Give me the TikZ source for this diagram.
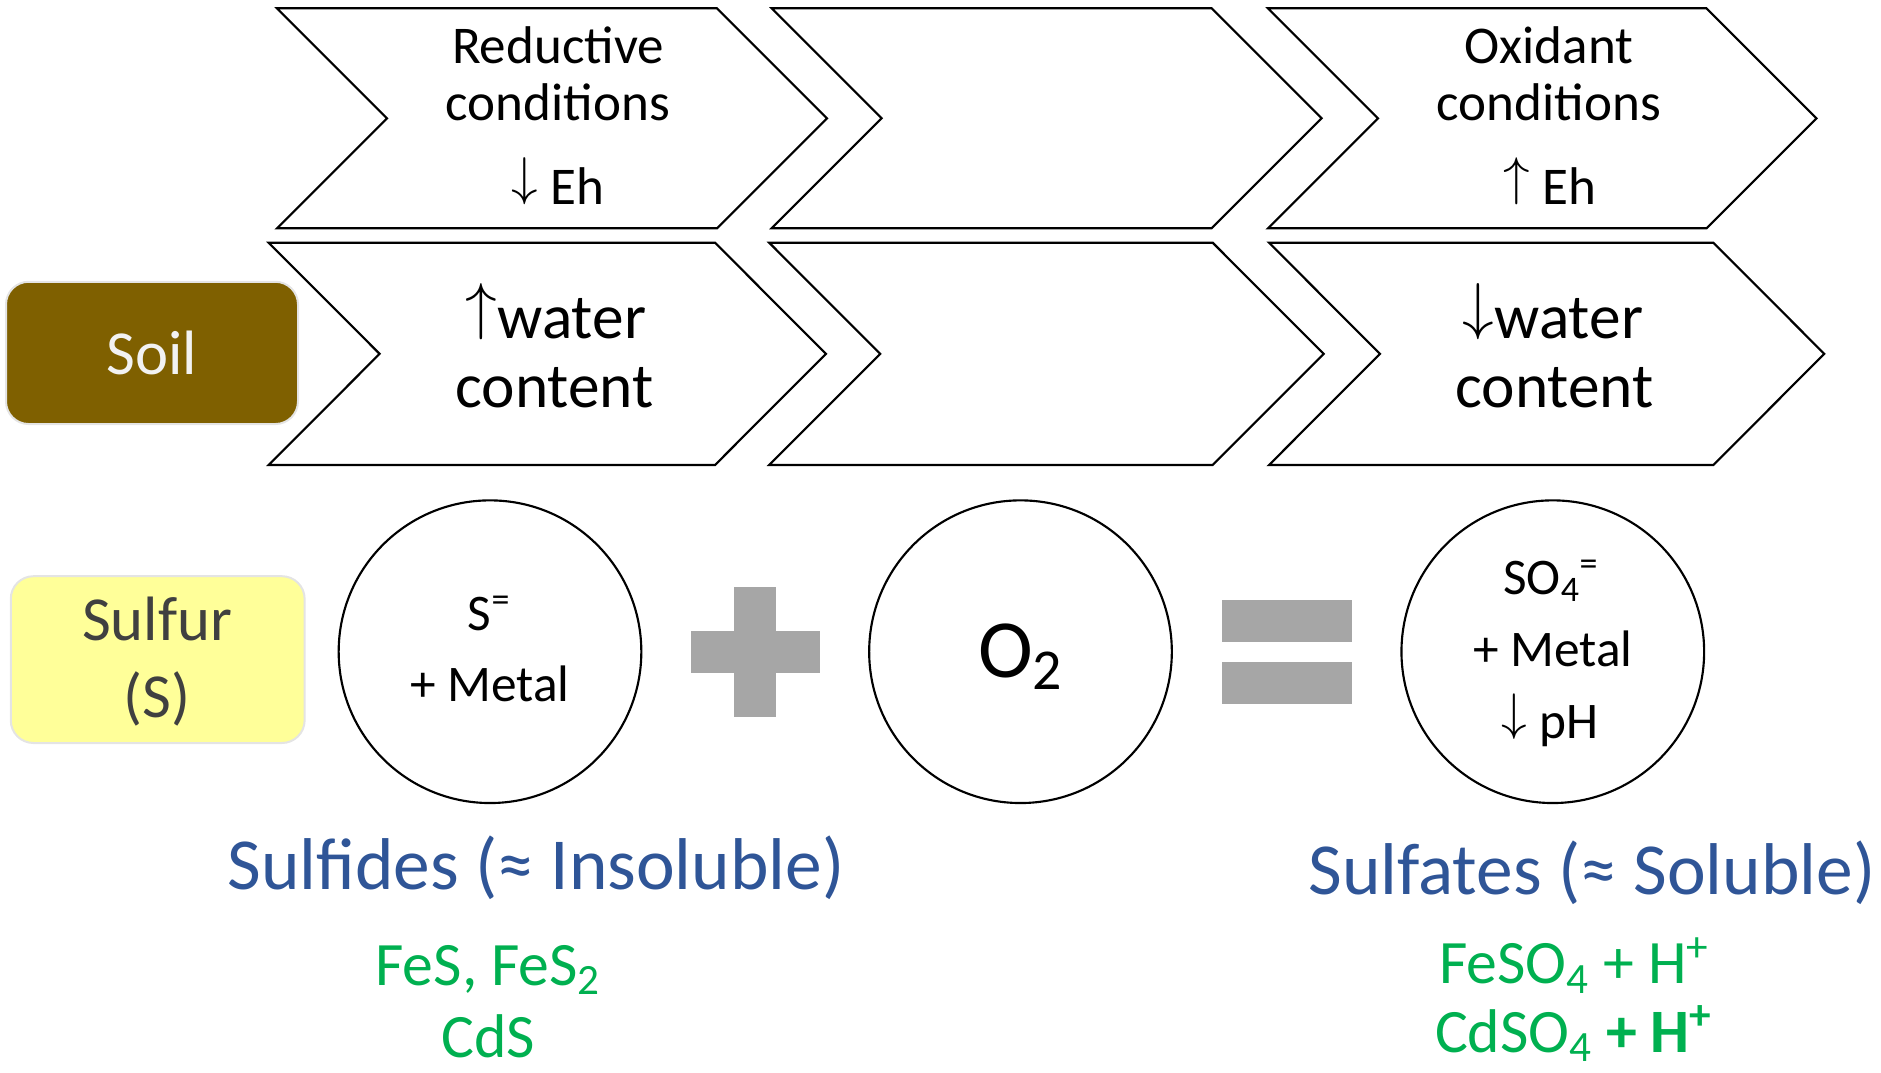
\RequirePackage{fix-cm}
\documentclass[tikz,border=0pt]{standalone}
\usepackage{fontspec}
\setmainfont{Carlito}
\definecolor{soilfill}{HTML}{7F6000}
\definecolor{soiltext}{HTML}{F2F2F2}
\definecolor{sulffill}{HTML}{FFFF99}
\definecolor{sulftext}{HTML}{404040}
\definecolor{boxedge}{HTML}{E4E4E4}
\definecolor{opgray}{HTML}{A6A6A6}
\definecolor{labblue}{HTML}{2F5597}
\definecolor{labgreen}{HTML}{00B050}
\newcommand{\myup}{\raisebox{0.17em}{$\uparrow$}}
\newcommand{\mydown}{\raisebox{0.17em}{$\downarrow$}}
% xleft, ytop, ybot, width, offset
\newcommand{\chevronpath}[5]{%
  \draw[chev] (#1,#2) -- ({#1+#4-#5},#2) -- ({#1+#4},{(#2+#3)/2})
    -- ({#1+#4-#5},#3) -- (#1,#3) -- ({#1+#5},{(#2+#3)/2}) -- cycle;}
\begin{document}
\begin{tikzpicture}[x=0.75pt,y=-0.75pt,
  chev/.style={draw=black,fill=white,line width=1.6pt,line join=miter},
  ball/.style={circle,draw=black,fill=white,line width=1.6pt,minimum size=227pt,inner sep=0pt},
  lbl/.style={anchor=base,inner sep=0pt},
  ftop/.style={font=\fontsize{39.8}{48}\selectfont},
  fmid/.style={font=\fontsize{47.5}{57}\selectfont},
  fbox/.style={font=\fontsize{47}{56}\selectfont},
  fcirc/.style={font=\fontsize{38.5}{47}\selectfont},
  fbig/.style={font=\fontsize{62}{74}\selectfont},
  fblue/.style={font=\fontsize{55}{66}\selectfont,text=labblue},
  fgreen/.style={font=\fontsize{46.3}{55}\selectfont,text=labgreen},
  tagbox/.style={draw=boxedge,line width=1.5pt,rounded corners=17pt,inner sep=0pt}
]
\useasboundingbox (0,0) rectangle (1881,1072);

% chevrons, row 1
\chevronpath{277}{8.3}{228.3}{550}{110}
\chevronpath{771.6}{8.3}{228.3}{550}{110}
\chevronpath{1268}{8.3}{228.3}{548.5}{110}
% chevrons, row 2
\chevronpath{268.6}{242.7}{465}{557.4}{111}
\chevronpath{769.2}{242.7}{465}{554.5}{111}
\chevronpath{1269}{242.7}{465}{555.3}{111}

% row 1 texts
\node[lbl,ftop] (r1a) at (558,63) {Reductive};
\node[lbl,ftop] (r1b) at (558,120.7) {conditions};
\node[lbl,ftop] (r1c) at (558,204) {\mydown\ Eh};
\node[lbl,ftop] (o1a) at (1549,63) {Oxidant};
\node[lbl,ftop] (o1b) at (1549,120.7) {conditions};
\node[lbl,ftop] (o1c) at (1550,204) {\myup\ Eh};

% row 2 texts
\node[lbl,fmid] (w1a) at (556,338.3) {\myup water};
\node[lbl,fmid] (w1b) at (554.6,407.3) {content};
\node[lbl,fmid] (w3a) at (1553,338.3) {\mydown water};
\node[lbl,fmid] (w3b) at (1554.6,407.3) {content};

% Soil
\node[tagbox,fill=soilfill,minimum width=219pt,minimum height=106.7pt,
      text=soiltext,fbox] (soil) at (152,352.9) {Soil};

% Sulfur
\node[tagbox,fill=sulffill,minimum width=220.4pt,minimum height=125.1pt] (sulf) at (157.7,659.6) {};
\node[lbl,fbox,text=sulftext] (sulfa) at (157,640.4) {Sulfur};
\node[lbl,fbox,text=sulftext] (sulfb) at (157,717.7) {(S)};

% circles
\node[ball] (c1) at (490,651.7) {};
\node[ball] (c2) at (1020.5,651.7) {};
\node[ball] (c3) at (1552.8,651.7) {};

\node[lbl,fcirc] (c1a) at (489,630.2) {S\textsuperscript{=}};
\node[lbl,fcirc] (c1b) at (490,701.9) {+ Metal};
\node[lbl,fbig] (c2a) at (1020.4,677) {O\textsubscript{2}};
\node[lbl,fcirc] (c3a) at (1550.7,594) {SO\textsubscript{4}\textsuperscript{=}};
\node[lbl,fcirc] (c3b) at (1553,666.8) {+ Metal};
\node[lbl,fcirc] (c3c) at (1550,738.5) {\mydown\ pH};

% operators
\fill[opgray] (734.4,586.8) rectangle (776.4,717);
\fill[opgray] (690.6,631) rectangle (820.1,672.5);
\fill[opgray] (1222,600) rectangle (1352.4,641.5);
\fill[opgray] (1222,662.3) rectangle (1352.4,703.8);

% labels
\node[lbl,fblue] (insol) at (536,889.4) {Sulfides (≈ Insoluble)};
\node[lbl,fblue] (sol) at (1592,894) {Sulfates (≈ Soluble)};
\node[lbl,fgreen] (g1) at (488,985.7) {FeS, FeS\textsubscript{2}};
\node[lbl,fgreen] (g2) at (488,1057) {CdS};
\node[lbl,fgreen] (g3) at (1574,983.8) {FeSO\textsubscript{4} + H\textsuperscript{+}};
\node[lbl,fgreen] (g4) at (1573.5,1052) {CdSO\textsubscript{4} \textbf{+ H\textsuperscript{+}}};
\end{tikzpicture}
\end{document}
